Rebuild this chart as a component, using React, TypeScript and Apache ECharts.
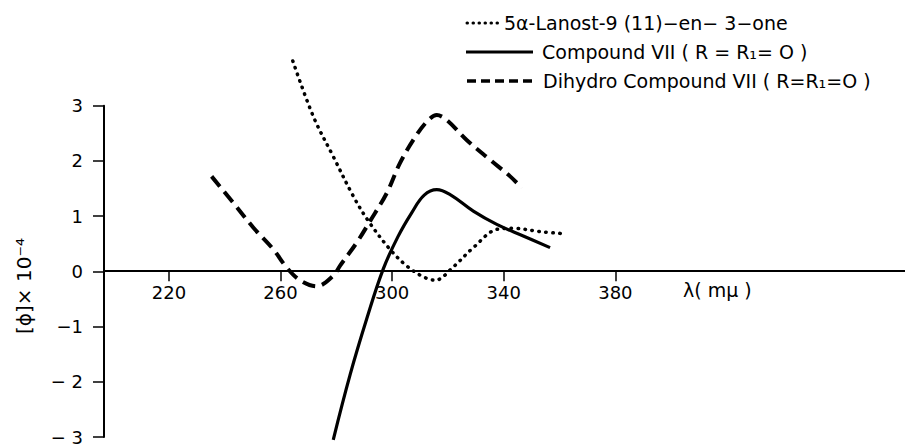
import React, { useEffect, useRef } from "react";
import * as echarts from "echarts";

// Wavelength ticks (mμ)
const xTicks = [220, 260, 300, 340, 380];

// 5α-Lanost-9(11)-en-3-one (dotted)
const lanostX = [264.4, 271.8, 278.9, 286.1, 291.5, 299.2, 305.2, 311.2, 315.5, 321.9, 329.1, 337.5, 343.3, 353, 362];
const lanostY = [3.81, 2.8, 2.08, 1.36, 0.91, 0.4, 0.1, -0.1, -0.16, 0.08, 0.43, 0.76, 0.78, 0.72, 0.68];

// Compound VII (solid)
const compX = [278.9, 284.9, 290.9, 296.8, 302.0, 307.0, 311.5, 316.0, 320.8, 329.1, 337.5, 347.0, 356.6];
const compY = [-3.05, -1.88, -0.86, 0.04, 0.62, 1.06, 1.38, 1.48, 1.39, 1.09, 0.85, 0.64, 0.43];

// Dihydro Compound VII (dashed)
const dihydroX = [235.3, 243.1, 250.3, 257.4, 262.2, 267.0, 273.0, 278.9, 281.3, 287.3, 292.1, 298.1, 302.8, 307.6, 312.4, 316.0, 319.6, 326.7, 335.1, 342.3, 346.5];
const dihydroY = [1.72, 1.24, 0.79, 0.4, 0.07, -0.16, -0.27, -0.08, 0.1, 0.52, 0.91, 1.42, 1.96, 2.38, 2.71, 2.83, 2.74, 2.38, 2.02, 1.72, 1.51];

const legendLabels = [
  "5α-Lanost-9 (11)−en− 3−one",
  "Compound VII ( R = R₁= O )",
  "Dihydro Compound VII ( R=R₁=O )",
];

const FONT = "DejaVu Sans";

const pairs = (xs: number[], ys: number[]) => xs.map((x, i) => [x, ys[i]]);

const GRID_TOP = 105.7;
const GRID_BOTTOM_PX = 439;
const Y_MIN = -3;
const Y_MAX = 3;
const zeroPx = GRID_TOP + ((Y_MAX - 0) / (Y_MAX - Y_MIN)) * (GRID_BOTTOM_PX - GRID_TOP);

export default function App() {
  const ref = useRef<HTMLDivElement>(null);
  useEffect(() => {
    if (!ref.current) return;
    const chart = echarts.init(ref.current, undefined, { renderer: "svg" });
    const black = "#000";
    chart.setOption({
      animation: false,
      backgroundColor: "#fff",
      grid: { left: 104, right: 0, top: GRID_TOP, bottom: 446 - GRID_BOTTOM_PX, containLabel: false },
      xAxis: {
        type: "value",
        min: 196.74,
        max: 483.8,
        position: "bottom",
        offset: -(GRID_BOTTOM_PX - zeroPx),
        axisLine: { onZero: false, lineStyle: { color: black, width: 2 } },
        axisTick: { show: true, inside: false, customValues: xTicks, length: 11, lineStyle: { color: black, width: 1.5 } },
        axisLabel: {
          customValues: xTicks,
          margin: 13,
          color: black,
          fontFamily: FONT,
          fontSize: 18,
        },
        splitLine: { show: false },
      },
      yAxis: {
        type: "value",
        min: Y_MIN,
        max: Y_MAX,
        interval: 1,
        axisLine: { onZero: false, lineStyle: { color: black, width: 2 } },
        axisTick: { show: true, inside: false, length: 11, lineStyle: { color: black, width: 1.5 } },
        axisLabel: {
          margin: 21,
          color: black,
          fontFamily: FONT,
          fontSize: 18,
          formatter: (v: number) => (v < 0 ? (v === -1 ? "−1" : "− " + Math.abs(v)) : String(v)),
        },
        splitLine: { show: false },
      },
      series: [
        {
          type: "line",
          data: pairs(lanostX, lanostY),
          showSymbol: false,
          clip: false,
          smooth: 0.35,
          lineStyle: { color: black, width: 3.5, type: [0.5, 6.5], cap: "round" },
        },
        {
          type: "line",
          data: pairs(compX, compY),
          showSymbol: false,
          clip: false,
          smooth: 0.4,
          lineStyle: { color: black, width: 3.2, type: "solid" },
        },
        {
          type: "line",
          data: pairs(dihydroX, dihydroY),
          showSymbol: false,
          clip: false,
          smooth: 0.35,
          lineStyle: { color: black, width: 4, type: [13, 7] },
        },
      ],
      graphic: [
        // legend
        { type: "line", shape: { x1: 467, y1: 23, x2: 498, y2: 23 }, style: { stroke: black, lineWidth: 3, lineDash: [0.5, 5.5], lineCap: "round" } },
        { type: "text", x: 504, y: 23, style: { text: legendLabels[0], fill: black, font: `19px "${FONT}"`, verticalAlign: "middle", align: "left" } },
        { type: "line", shape: { x1: 466, y1: 52, x2: 533, y2: 52 }, style: { stroke: black, lineWidth: 3 } },
        { type: "text", x: 542, y: 52, style: { text: legendLabels[1], fill: black, font: `19px "${FONT}"`, verticalAlign: "middle", align: "left" } },
        { type: "line", shape: { x1: 467, y1: 81, x2: 533, y2: 81 }, style: { stroke: black, lineWidth: 3.5, lineDash: [9, 5] } },
        { type: "text", x: 543, y: 81, style: { text: legendLabels[2], fill: black, font: `19px "${FONT}"`, verticalAlign: "middle", align: "left" } },
        // axis names
        { type: "text", x: 683, y: 290, style: { text: "λ( mμ )", fill: black, font: `19px "${FONT}"`, verticalAlign: "middle", align: "left" } },
        { type: "text", x: 24, y: 286, rotation: Math.PI / 2, style: { text: "[ϕ]× 10⁻⁴", fill: black, font: `20px "${FONT}"`, verticalAlign: "middle", align: "center" } },
      ],
    });
    return () => chart.dispose();
  }, []);
  return <div ref={ref} style={{ position: "fixed", left: 0, top: 0, width: 905, height: 446 }} />;
}
